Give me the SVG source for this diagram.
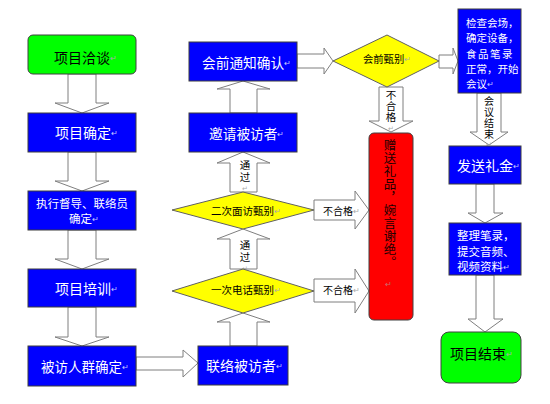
<svg xmlns="http://www.w3.org/2000/svg" width="550" height="404" viewBox="0 0 550 404">
<style>
.arrow{fill:#fff;stroke:#7f7f7f;stroke-width:1}
.blue{fill:#0000ff;stroke:#3c3c3c;stroke-width:1}
.green{fill:#00ff00;stroke:#404040;stroke-width:1}
.yellow{fill:#ffff00;stroke:#606060;stroke-width:1}
.red{fill:#ff0000;stroke:#404040;stroke-width:1}
text{font-family:"Noto Sans CJK SC","Noto Sans",sans-serif;dominant-baseline:central}
text.v{writing-mode:vertical-rl;dominant-baseline:auto}
.w{fill:#fff}
.k{fill:#000}
.pm{font-size:8px;fill:#aaa}
.pv{font-size:6.5px;fill:#aaa}
.pmw{font-size:8px;fill:#c8c8ff}
</style>
<rect width="550" height="404" fill="#fff"/>
<g id="connectors">
<polygon class="arrow" points="68,74 96,74 96,103 109,103 82,113 55,103 68,103"/>
<polygon class="arrow" points="68,152 96,152 96,181 109,181 82,191 55,181 68,181"/>
<polygon class="arrow" points="68,230 96,230 96,259 109,259 82,269 55,259 68,259"/>
<polygon class="arrow" points="68,307 96,307 96,337 109,337 82,346 55,337 68,337"/>
<polygon class="arrow" points="136,357 183,357 183,350 198,363 183,377 183,370 136,370"/>
<polygon class="arrow" points="230,346 257,346 257,322 270,322 243,313 217,322 230,322"/>
<polygon class="arrow" points="230,269 257,269 257,239 270,239 243,229 217,239 230,239"/>
<polygon class="arrow" points="230,192 257,192 257,163 270,163 243,152 217,163 230,163"/>
<polygon class="arrow" points="230,113 257,113 257,89 270,89 243,81 217,89 230,89"/>
<polygon class="arrow" points="314,200 355,200 355,191 369,210 355,229 355,220 314,220"/>
<polygon class="arrow" points="314,279 355,279 355,269 369,291 355,313 355,302 314,302"/>
<polygon class="arrow" points="297,54 324,54 324,48 333,61 324,74 324,68 297,68"/>
<polygon class="arrow" points="439,55 453,55 453,48 458,61 453,74 453,68 439,68"/>
<polygon class="arrow" points="379,87 403,87 403,121 413,121 391,132 369,121 379,121"/>
<polygon class="arrow" points="477,93 501,93 501,132 508,132 489,145 470,132 477,132"/>
<polygon class="arrow" points="476,184 494,184 494,213 503,213 485,223 468,213 476,213"/>
<polygon class="arrow" points="476,275 494,275 494,319 503,319 485,332 468,319 476,319"/>
<text x="323" y="210" font-size="10" class="k">不合格<tspan class="pm">↵</tspan></text>
<text x="323" y="289" font-size="10" class="k">不合格<tspan class="pm">↵</tspan></text>
<text class="v k" x="245" y="160" font-size="10.5" letter-spacing="1.5">通过</text>
<text x="245" y="188" text-anchor="middle" class="pv">↵</text>
<text class="v k" x="245" y="240" font-size="10.5" letter-spacing="1.5">通过</text>
<text x="245" y="268" text-anchor="middle" class="pv">↵</text>
<text class="v k" x="391" y="90" font-size="10.5" letter-spacing="0.5">不合格</text>
<text x="391" y="128" text-anchor="middle" class="pv">↵</text>
<text class="v k" x="489" y="96" font-size="10" letter-spacing="1">会议结束</text>
<text x="489" y="144" text-anchor="middle" class="pv">↵</text>
</g>
<g id="n1"><rect class="green" x="28" y="35" width="108" height="39" rx="5"/><text x="54" y="57" font-size="14" class="k">项目洽谈<tspan class="pm">↵</tspan></text></g>
<g id="n2"><rect class="blue" x="28" y="113" width="108" height="39"/><text x="55" y="132" font-size="14" class="w">项目确定<tspan class="pmw">↵</tspan></text></g>
<g id="n3"><rect class="blue" x="28" y="191" width="108" height="39"/><text x="36" y="203" font-size="11.5" class="w">执行督导、联络员</text><text x="69" y="218" font-size="11.5" class="w">确定<tspan class="pmw">↵</tspan></text></g>
<g id="n4"><rect class="blue" x="28" y="269" width="108" height="38"/><text x="55" y="288" font-size="14" class="w">项目培训<tspan class="pmw">↵</tspan></text></g>
<g id="n5"><rect class="blue" x="28" y="346" width="108" height="40"/><text x="41" y="366" font-size="13.5" class="w">被访人群确定<tspan class="pmw">↵</tspan></text></g>
<g id="n6"><rect class="blue" x="198" y="346" width="90" height="39"/><text x="206" y="365" font-size="14" class="w">联络被访者<tspan class="pmw">↵</tspan></text></g>
<g id="n7"><polygon class="yellow" points="172,291 243,269 314,291 243,313"/><text x="211" y="289" font-size="10.5" class="k">一次电话甄别<tspan class="pm">↵</tspan></text></g>
<g id="n8"><polygon class="yellow" points="172,210 243,192 314,210 243,229"/><text x="211" y="210" font-size="10.5" class="k">二次面访甄别<tspan class="pm">↵</tspan></text></g>
<g id="n9"><rect class="blue" x="189" y="113" width="108" height="39"/><text x="209" y="133" font-size="13.7" class="w">邀请被访者<tspan class="pmw">↵</tspan></text></g>
<g id="n10"><rect class="blue" x="189" y="42" width="108" height="39"/><text x="202" y="62" font-size="13.7" class="w">会前通知确认<tspan class="pmw">↵</tspan></text></g>
<g id="n11"><polygon class="yellow" points="333,61 387,35 439,61 387,87"/><text x="363" y="58" font-size="10.3" class="k">会前甄别<tspan class="pm">↵</tspan></text></g>
<g id="n12"><rect class="red" x="369" y="133" width="44" height="187" rx="5"/>
<text class="v" x="390" y="139" font-size="12.5" letter-spacing="0.5" fill="#1a0000">赠送礼品，婉言谢绝。</text>
<text x="388" y="283" text-anchor="middle" font-size="8" style="fill:#c87070">↵</text></g>
<g id="n13"><rect class="blue" x="458" y="9" width="63" height="84"/>
<text font-size="10.5" class="w"><tspan x="466" y="22">检查会场，</tspan><tspan x="466" y="37">确定设备，</tspan><tspan x="466" y="53" letter-spacing="1.5">食品笔录</tspan><tspan x="466" y="68">正常，开始</tspan><tspan x="466" y="83">会议<tspan class="pmw">↵</tspan></tspan></text></g>
<g id="n14"><rect class="blue" x="449" y="146" width="72" height="38"/><text x="457" y="165" font-size="14" class="w">发送礼金<tspan class="pmw">↵</tspan></text></g>
<g id="n15"><rect class="blue" x="449" y="223" width="72" height="52"/>
<text font-size="11.5" class="w"><tspan x="457" y="235">整理笔录，</tspan><tspan x="457" y="251">提交音频、</tspan><tspan x="457" y="266">视频资料<tspan class="pmw">↵</tspan></tspan></text></g>
<g id="n16"><rect class="green" x="441" y="332" width="80" height="51" rx="8"/><text x="450" y="353" font-size="14" class="k">项目结束<tspan class="pm">↵</tspan></text></g>
</svg>
